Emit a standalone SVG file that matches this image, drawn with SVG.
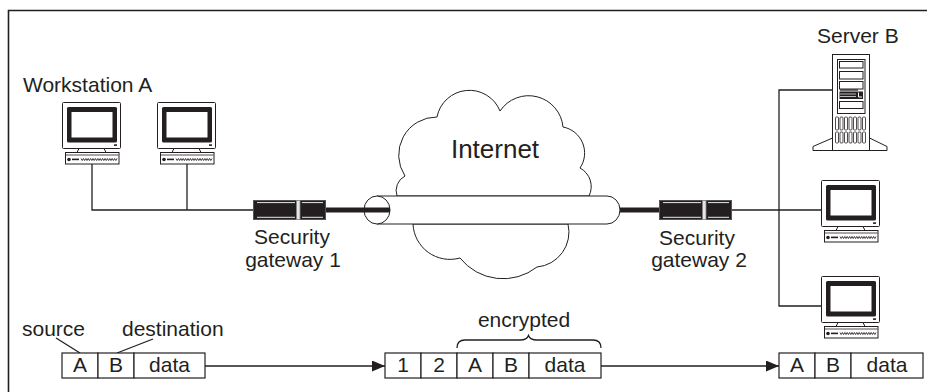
<svg xmlns="http://www.w3.org/2000/svg" xmlns:xlink="http://www.w3.org/1999/xlink" width="927" height="392" viewBox="0 0 927 392">
  <style>
    .ln { stroke: #231f20; stroke-width: 1.3; fill: none; }
    .thick { stroke: #231f20; stroke-width: 5; fill: none; }
    .box { stroke: #231f20; stroke-width: 1.2; fill: #fff; }
    .out { stroke: #231f20; stroke-width: 1; fill: #fff; }
    .blk { fill: #231f20; }
    .txt { font-family: "Liberation Sans", Arial, Helvetica, sans-serif; font-size: 21px; fill: #231f20; }
    .mid { text-anchor: middle; }
    .big { font-size: 26px; }
  </style>
  <defs>
    <marker id="arrow" viewBox="0 0 13 11" refX="13" refY="5.5" markerWidth="13" markerHeight="11" markerUnits="userSpaceOnUse" orient="auto">
      <path d="M0,0 L13,5.5 L0,11 Z" fill="#231f20"/>
    </marker>
    <!-- desktop workstation: monitor + system unit -->
    <g id="workstation-icon">
      <rect class="out" x="0.5" y="0.5" width="58" height="46" rx="1"/>
      <rect class="blk" x="5" y="5" width="50" height="35.5" rx="1.5"/>
      <rect x="9.5" y="10" width="41" height="25.5" fill="#fff"/>
      <rect class="blk" x="52" y="42.3" width="3" height="1.6"/>
      <path class="out" d="M17,46.5 L42,46.5 L44,50.5 L15,50.5 Z"/>
      <rect class="out" x="3.5" y="50.5" width="53.5" height="11.5"/>
      <line x1="4" y1="53" x2="56.5" y2="53" stroke="#231f20" stroke-width="0.8"/>
      <circle class="blk" cx="7" cy="57.5" r="1.8"/>
      <rect class="blk" x="10" y="56.6" width="7" height="1.6"/>
      <polyline fill="none" stroke="#231f20" stroke-width="0.9" points="19,56.5 20.2,58.5 21.4,56.5 22.6,58.5 23.8,56.5 25,58.5 26.2,56.5 27.4,58.5 28.6,56.5 29.8,58.5 31,56.5 32.2,58.5 33.4,56.5 34.6,58.5 35.8,56.5 37,58.5 38.2,56.5 39.4,58.5 40.6,56.5 41.8,58.5 43,56.5 44.2,58.5 45.4,56.5 46.6,58.5 47.8,56.5 49,58.5 50.2,56.5 51.4,58.5 52.6,56.5 53.8,58.5 55,56.5"/>
    </g>
    <!-- inline security gateway box -->
    <g id="gateway-icon">
      <rect x="0.5" y="0.5" width="72" height="19" fill="#231f20" stroke="#555" stroke-width="1"/>
      <line x1="4" y1="2.6" x2="42" y2="2.6" stroke="#fff" stroke-width="0.9"/>
      <line x1="49" y1="2.6" x2="70" y2="2.6" stroke="#fff" stroke-width="0.9"/>
      <line x1="4" y1="17.3" x2="42" y2="17.3" stroke="#fff" stroke-width="0.9"/>
      <line x1="49" y1="17.3" x2="70" y2="17.3" stroke="#fff" stroke-width="0.9"/>
      <rect x="43.5" y="0.5" width="3.5" height="19" fill="#e6e6e6" stroke="#888" stroke-width="0.8"/>
    </g>
  </defs>

  <!-- frame -->
  <path d="M8.5,392 V10.5 H927" fill="none" stroke="#231f20" stroke-width="1.6"/>

  <!-- Internet cloud with tunnel -->
  <g id="internet">
    <path class="out" stroke-width="1.2" d="M397,196 A16.5,16.5 0 0,1 405,176 A38,38 0 0,1 437,117 A33,33 0 0,1 500,111 A34.5,34.5 0 0,1 563,127 A26.5,26.5 0 0,1 580,168 A21,21 0 0,1 589,196 Z"/>
    <path class="out" stroke-width="1.2" d="M568,224 A35,35 0 0,1 537,267 A55,55 0 0,1 460,258 A37,37 0 0,1 413,224 Z"/>
    <path class="out" stroke-width="1.2" d="M377,196 H607 A13,14 0 0,1 607,224 H377 Z"/>
    <ellipse class="out" stroke-width="1.2" cx="377" cy="210" rx="13" ry="14"/>
    <text class="txt big mid" x="495" y="158">Internet</text>
  </g>

  <!-- connectors -->
  <g id="connectors">
    <polyline class="ln" points="92,164 92,210 253,210"/>
    <line class="ln" x1="187" y1="164" x2="187" y2="210"/>
    <line class="thick" x1="326" y1="210" x2="390" y2="210"/>
    <line class="thick" x1="620" y1="210" x2="659" y2="210"/>
    <line class="ln" x1="732" y1="210" x2="821" y2="210"/>
    <polyline class="ln" points="858,90 779,90 779,306 821,306"/>
  </g>

  <g id="workstation-a">
    <use xlink:href="#workstation-icon" x="62" y="102"/>
    <use xlink:href="#workstation-icon" x="157" y="102"/>
    <text class="txt" x="23" y="92">Workstation A</text>
  </g>

  <g id="gateway-1">
    <use xlink:href="#gateway-icon" x="253" y="200"/>
    <text class="txt mid" x="292" y="244">Security</text>
    <text class="txt mid" x="293" y="267">gateway 1</text>
  </g>

  <g id="gateway-2">
    <use xlink:href="#gateway-icon" x="659" y="200"/>
    <text class="txt mid" x="697" y="245">Security</text>
    <text class="txt mid" x="699" y="267">gateway 2</text>
  </g>

  <g id="server-b">
    <text class="txt" x="817" y="43">Server B</text>
    <path class="out" d="M832.5,138 L813,146.5 L813,150.5 L887,150.5 L887,146.5 L869.5,138"/>
    <rect class="out" x="832.5" y="54.5" width="37" height="96"/>
    <rect class="out" x="837.5" y="59.5" width="27.5" height="54"/>
    <rect class="out" x="839.5" y="61.5" width="23.5" height="6.5"/>
    <rect class="out" x="839.5" y="71.5" width="23.5" height="7.5"/>
    <rect class="out" x="839.5" y="81.5" width="23.5" height="7.5"/>
    <rect class="blk" x="839.5" y="91.5" width="23.5" height="7.5"/>
    <line x1="840" y1="94" x2="856" y2="94" stroke="#fff" stroke-width="0.7"/>
    <line x1="840" y1="96.5" x2="856" y2="96.5" stroke="#fff" stroke-width="0.7"/>
    <path d="M858.5,92.5 V97 H862" fill="none" stroke="#fff" stroke-width="1"/>
    <rect class="out" x="839.5" y="101.5" width="23.5" height="7"/>
    <g fill="none" stroke="#231f20" stroke-width="0.8">
      <rect x="835.5" y="117" width="3" height="13" rx="1"/>
      <rect x="840" y="117" width="3" height="13" rx="1"/>
      <rect x="844.5" y="117" width="3" height="13" rx="1"/>
      <rect x="849" y="117" width="3" height="13" rx="1"/>
      <rect x="853.5" y="117" width="3" height="13" rx="1"/>
      <rect x="858" y="117" width="3" height="13" rx="1"/>
      <rect x="862.5" y="117" width="3" height="13" rx="1"/>
      <rect x="835.5" y="132" width="3" height="11" rx="1"/>
      <rect x="840" y="132" width="3" height="11" rx="1"/>
      <rect x="844.5" y="132" width="3" height="11" rx="1"/>
      <rect x="849" y="132" width="3" height="11" rx="1"/>
      <rect x="853.5" y="132" width="3" height="11" rx="1"/>
      <rect x="858" y="132" width="3" height="11" rx="1"/>
      <rect x="862.5" y="132" width="3" height="11" rx="1"/>
    </g>
    <line class="ln" x1="840" y1="90" x2="858" y2="90"/>
  </g>

  <g id="workstation-b1">
    <use xlink:href="#workstation-icon" x="821" y="180"/>
  </g>
  <g id="workstation-b2">
    <use xlink:href="#workstation-icon" x="821" y="276"/>
  </g>

  <!-- packet formats along the path -->
  <g id="packet-original">
    <text class="txt" x="22" y="336">source</text>
    <text class="txt" x="122" y="336">destination</text>
    <line class="ln" x1="56" y1="338" x2="80" y2="353" stroke-width="1"/>
    <line class="ln" x1="153" y1="339" x2="117" y2="353" stroke-width="1"/>
    <rect class="box" x="62" y="353" width="36" height="25"/>
    <rect class="box" x="98" y="353" width="36" height="25"/>
    <rect class="box" x="134" y="353" width="71" height="25"/>
    <text class="txt mid" x="80" y="372">A</text>
    <text class="txt mid" x="116" y="372">B</text>
    <text class="txt mid" x="169.5" y="372">data</text>
  </g>

  <g id="packet-tunnel">
    <text class="txt mid" x="524" y="327">encrypted</text>
    <path class="ln" stroke-width="1.1" d="M457,348 Q457,340 465,340 L520,340 Q527,340 528.5,335.5 Q530,340 537,340 L593,340 Q601,340 601,348"/>
    <rect class="box" x="385" y="353" width="36" height="25"/>
    <rect class="box" x="421" y="353" width="36" height="25"/>
    <rect class="box" x="457" y="353" width="36" height="25"/>
    <rect class="box" x="493" y="353" width="36" height="25"/>
    <rect class="box" x="529" y="353" width="72" height="25"/>
    <text class="txt mid" x="403" y="372">1</text>
    <text class="txt mid" x="439" y="372">2</text>
    <text class="txt mid" x="475" y="372">A</text>
    <text class="txt mid" x="511" y="372">B</text>
    <text class="txt mid" x="565" y="372">data</text>
  </g>

  <g id="packet-delivered">
    <rect class="box" x="779" y="353" width="36" height="25"/>
    <rect class="box" x="815" y="353" width="36" height="25"/>
    <rect class="box" x="851" y="353" width="72" height="25"/>
    <text class="txt mid" x="797" y="372">A</text>
    <text class="txt mid" x="833" y="372">B</text>
    <text class="txt mid" x="887" y="372">data</text>
  </g>

  <g id="packet-arrows">
    <line class="ln" x1="205" y1="366" x2="385" y2="366" marker-end="url(#arrow)"/>
    <line class="ln" x1="601" y1="366" x2="779" y2="366" marker-end="url(#arrow)"/>
  </g>
</svg>
